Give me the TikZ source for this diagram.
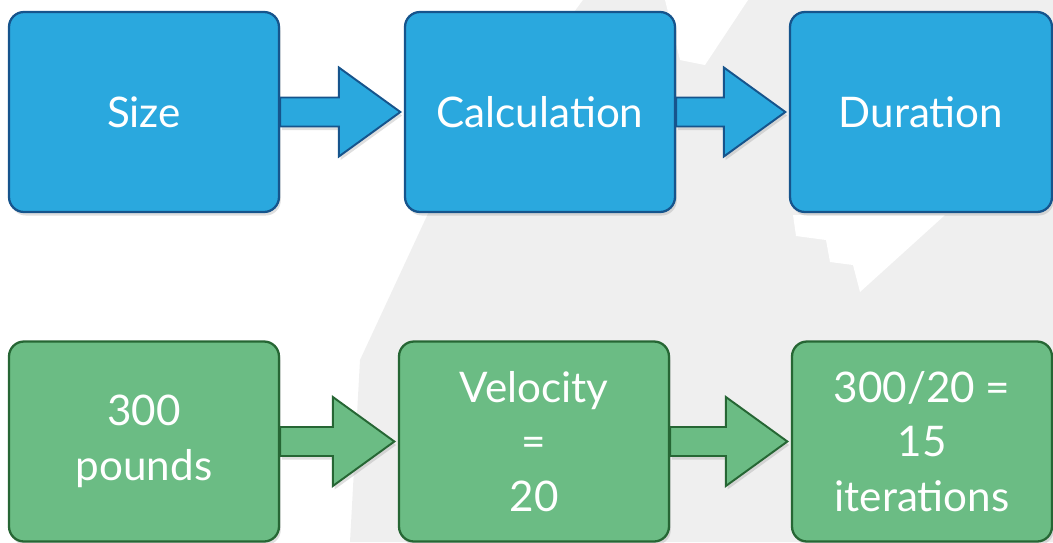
\documentclass[tikz,border=0pt]{standalone}
\usepackage{fontspec}
\setmainfont{Lato}
\usetikzlibrary{calc,shadows}

\definecolor{boxblue}{RGB}{42,168,222}
\definecolor{lineblue}{RGB}{22,84,140}
\definecolor{boxgreen}{RGB}{107,188,132}
\definecolor{linegreen}{RGB}{38,102,52}
\definecolor{wmgray}{RGB}{239,239,239}

\tikzset{
  stage/.style={draw, line width=1.3pt, rounded corners=0.3cm,
    minimum width=5.4cm, minimum height=4cm, align=center, text=white,
    font=\fontsize{24}{31}\selectfont,
    drop shadow={shadow xshift=1pt, shadow yshift=-2pt, opacity=0.25}},
  bluestage/.style={stage, fill=boxblue, draw=lineblue},
  greenstage/.style={stage, fill=boxgreen, draw=linegreen},
  flow/.style={line width=1.1pt, line join=miter,
    drop shadow={shadow xshift=1pt, shadow yshift=-2pt, opacity=0.25}},
  blueflow/.style={flow, fill=boxblue, draw=lineblue},
  greenflow/.style={flow, fill=boxgreen, draw=linegreen}
}

\begin{document}
\begin{tikzpicture}
\useasboundingbox (0,0) rectangle (21.06,10.84);

% faint background shape
\fill[wmgray] (11.66,10.84) -- (21.06,10.84) -- (21.06,0) -- (7.0,0)
  -- (7.2,3.64) -- (8.64,6.74) -- cycle;
\fill[white] (13.3,10.84) -- (14.96,10.84) -- (14.1,9.54) -- (13.6,9.64) -- cycle;
\fill[white] (15.86,6.54) -- (18.9,6.54) -- (17.2,5.0) -- (17.06,5.54)
  -- (16.6,5.6) -- (16.52,6.04) -- (15.92,6.12) -- cycle;

% top row
\node[bluestage] (size) at (2.88,8.6) {Size};
\node[bluestage] (calc) at (10.8,8.6) {Calculation};
\node[bluestage, minimum width=5.24cm] (dur) at (18.42,8.6) {Duration};

% bottom row
\node[greenstage] (pounds) at (2.88,2.01) {300\\pounds};
\node[greenstage] (vel) at (10.68,2.01) {Velocity\\=\\20};
\node[greenstage, minimum width=5.2cm] (iter) at (18.44,2.01) {300/20 =\\15\\iterations};

% block arrows
\foreach \a/\b/\s in {size/calc/blueflow, calc/dur/blueflow,
                      pounds/vel/greenflow, vel/iter/greenflow}
  \draw[\s] ($(\a.east)+(0,0.29)$) -- ($(\b.west)+(-1.3,0.29)$)
    -- ($(\b.west)+(-1.3,0.89)$) -- ($(\b.west)+(-0.07,0)$)
    -- ($(\b.west)+(-1.3,-0.89)$) -- ($(\b.west)+(-1.3,-0.29)$)
    -- ($(\a.east)+(0,-0.29)$) -- cycle;
\end{tikzpicture}
\end{document}
